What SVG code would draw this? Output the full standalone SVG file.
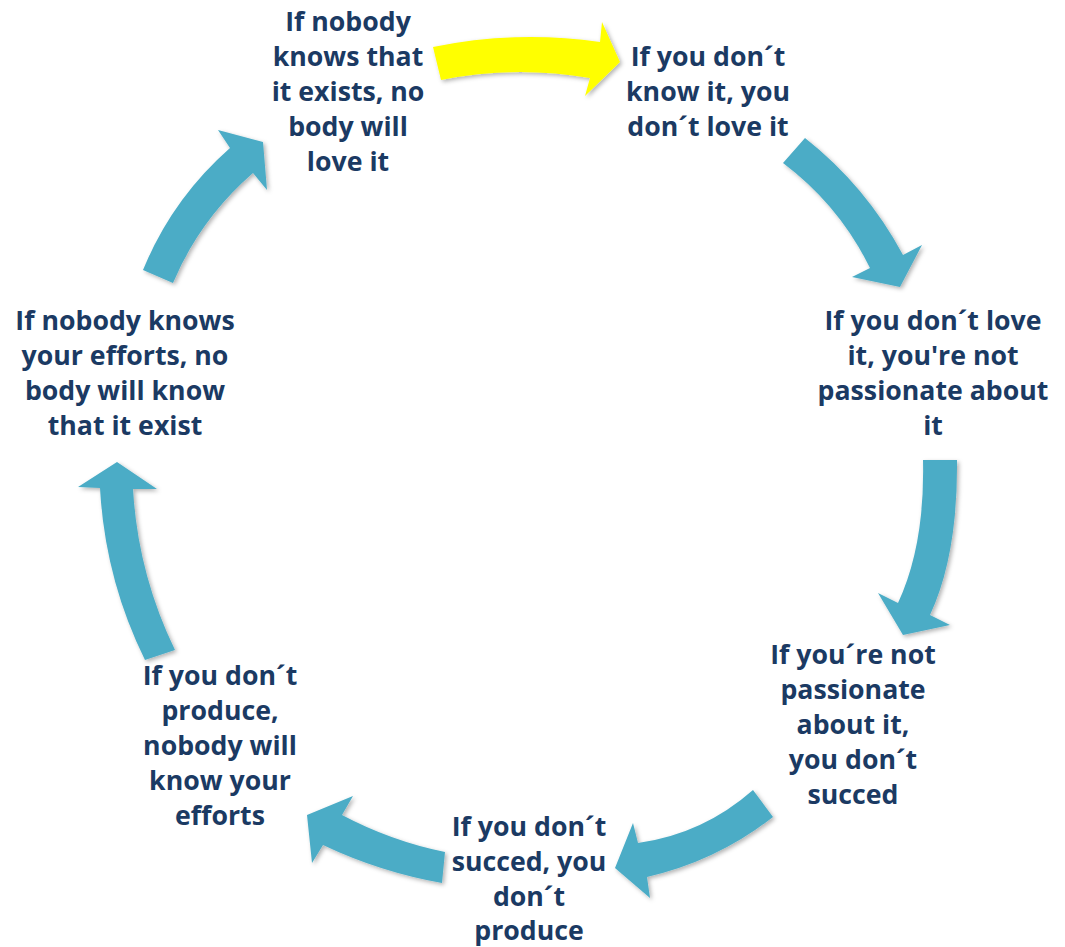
<svg xmlns="http://www.w3.org/2000/svg" width="1065" height="947" viewBox="0 0 1065 947">
<defs>
<filter id="sh" x="-20%" y="-20%" width="140%" height="140%">
<feDropShadow dx="2" dy="2" stdDeviation="2" flood-color="#000" flood-opacity="0.3"/>
</filter>
<style>
.t{font-family:"Open Sans",Lato,"Liberation Sans",sans-serif;font-weight:700;font-size:26.7px;fill:#1B3A63;text-anchor:middle}
.a{fill:#4BACC6;filter:url(#sh)}
.y{fill:#FFFF00;filter:url(#sh)}
</style>
</defs>
<rect width="1065" height="947" fill="#fff"/>
<g id="connectors">
<path class="y" d="M433,47 Q516,30 600,42 L602,22 L620,62 L585,96 L590,78 Q515,65 441,80 Z"/>
<path class="a" d="M805,138 Q866,186 903,255 L922,245 L900,287 L852,277 L870,268 Q839,205 783,163 Z"/>
<path class="a" d="M957,460 Q958,555 930,615 L950,625 L903,635 L878,593 L898,603 Q925,545 923,460 Z"/>
<path class="a" d="M773,817 Q717,861 647,877 L650,898 L615,868 L633,823 L638,843 Q703,834 753,790 Z"/>
<path class="a" d="M445,852 Q391,841 342,815 L353,796 L307,815 L312,863 L323,845 Q380,872 442,883 Z"/>
<path class="a" d="M145,660 Q105,579 100,488 L78,487 L117,462 L157,489 L133,489 Q138,574 175,650 Z"/>
<path class="a" d="M143,270 Q172,199 230,148 L218,130 L263,142 L267,190 L253,173 Q200,219 173,283 Z"/>
</g>
<g id="n1"><text class="t" x="348" y="31">If nobody</text><text class="t" x="348" y="66">knows that</text><text class="t" x="348" y="101">it exists, no</text><text class="t" x="348" y="136">body will</text><text class="t" x="348" y="171">love it</text></g>
<g id="n2"><text class="t" x="708" y="66">If you don´t</text><text class="t" x="708" y="101">know it, you</text><text class="t" x="708" y="136">don´t love it</text></g>
<g id="n3"><text class="t" x="933" y="330">If you don´t love</text><text class="t" x="933" y="365">it, you're not</text><text class="t" x="933" y="400">passionate about</text><text class="t" x="933" y="435">it</text></g>
<g id="n4"><text class="t" x="853" y="664">If you´re not</text><text class="t" x="853" y="699">passionate</text><text class="t" x="853" y="734">about it,</text><text class="t" x="853" y="769">you don´t</text><text class="t" x="853" y="804">succed</text></g>
<g id="n5"><text class="t" x="529" y="836">If you don´t</text><text class="t" x="529" y="871">succed, you</text><text class="t" x="529" y="906">don´t</text><text class="t" x="529" y="940">produce</text></g>
<g id="n6"><text class="t" x="220" y="685">If you don´t</text><text class="t" x="220" y="720">produce,</text><text class="t" x="220" y="755">nobody will</text><text class="t" x="220" y="790">know your</text><text class="t" x="220" y="825">efforts</text></g>
<g id="n7"><text class="t" x="125" y="330">If nobody knows</text><text class="t" x="125" y="365">your efforts, no</text><text class="t" x="125" y="400">body will know</text><text class="t" x="125" y="435">that it exist</text></g>
</svg>
